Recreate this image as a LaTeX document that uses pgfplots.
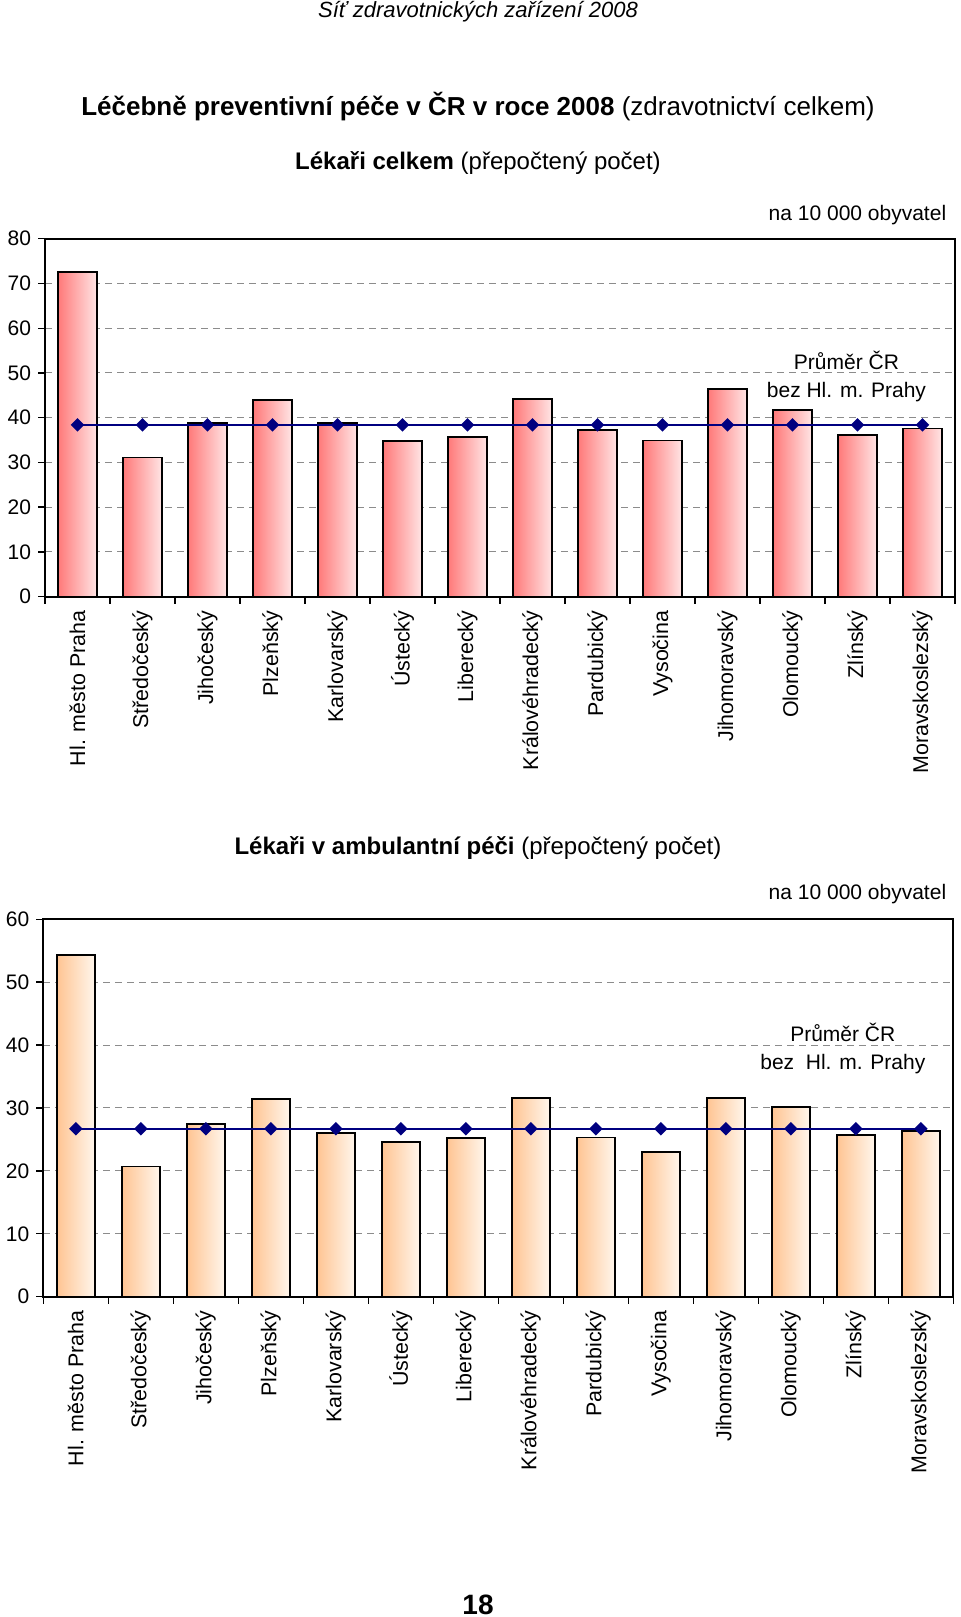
\documentclass[border=0pt]{standalone}
\usepackage{pgfplots}
\pgfplotsset{compat=1.18}
\usepackage{fontspec}
\setmainfont{Liberation Sans}

\definecolor{avgblue}{RGB}{0,0,128}
\definecolor{gridgray}{RGB}{140,140,140}
\definecolor{redL}{RGB}{255,122,122}
\definecolor{redR}{RGB}{255,228,228}
\definecolor{orL}{RGB}{255,196,146}
\definecolor{orR}{RGB}{255,246,236}

\pgfplotsset{
  regchart/.style={
    scale only axis,
    width=455pt,
    xmin=-0.5, xmax=13.5,
    ymin=0,
    xtick={0,...,13},
    xticklabels={Hl. město Praha, Středočeský, Jihočeský, Plzeňský, Karlovarský, Ústecký, Liberecký, Královéhradecký, Pardubický, Vysočina, Jihomoravský, Olomoucký, Zlínský, Moravskoslezský},
    xticklabel style={rotate=90, anchor=east, font=\fontsize{10.7}{12}\selectfont},
    major x tick style={draw=none},
    minor xtick={-0.5,0.5,...,13.5},
    minor x tick style={draw=black, line width=0.7pt},
    minor tick length=3.5pt,
    major tick length=3.5pt,
    tick align=outside,
    xtick pos=bottom, ytick pos=left,
    ytick style={draw=black, line width=0.7pt},
    yticklabel style={font=\fontsize{10.5}{12}\selectfont},
    /pgf/number format/assume math mode=true,
    ymajorgrids,
    major grid style={gridgray, dash pattern=on 3.5pt off 2.5pt, line width=0.5pt},
    axis line style={line width=0.9pt},
    anchor=south west,
    clip=false,
  },
  bars/.style={ybar, bar width=0.59, draw=black, line width=0.9pt, bar shift=0pt},
  rbar/.style={bars, left color=redL, right color=redR},
  obar/.style={bars, left color=orL, right color=orR},
  avgline/.style={avgblue, line width=1pt, mark=square*, mark size=1.9pt, mark options={fill=avgblue, draw=avgblue, rotate=45}},
}

\begin{document}
\begin{tikzpicture}
\path[use as bounding box] (0,0) rectangle (480pt,808.5pt);

\node[anchor=base, inner sep=0pt, font=\fontsize{11}{13}\selectfont\itshape] at (239pt,799.5pt) {Síť zdravotnických zařízení 2008};
\node[anchor=base, inner sep=0pt, font=\fontsize{13}{15}\selectfont] at (239pt,750.5pt) {\textbf{Léčebně preventivní péče v ČR v roce 2008} (zdravotnictví celkem)};
\node[anchor=base, inner sep=0pt, font=\fontsize{12}{14}\selectfont] at (239pt,723.5pt) {\textbf{Lékaři celkem} (přepočtený počet)};
\node[anchor=base east, inner sep=0pt, font=\fontsize{10.5}{12}\selectfont] at (473.3pt,698pt) {na 10 000 obyvatel};

\begin{axis}[regchart, at={(22.5pt,510.15pt)}, height=179pt, ymax=80, ytick={0,10,...,80}]
\addplot[rbar] coordinates {(0,72.6)};
\addplot[rbar] coordinates {(1,31.1)};
\addplot[rbar] coordinates {(2,38.9)};
\addplot[rbar] coordinates {(3,44.0)};
\addplot[rbar] coordinates {(4,38.9)};
\addplot[rbar] coordinates {(5,34.8)};
\addplot[rbar] coordinates {(6,35.6)};
\addplot[rbar] coordinates {(7,44.2)};
\addplot[rbar] coordinates {(8,37.2)};
\addplot[rbar] coordinates {(9,34.9)};
\addplot[rbar] coordinates {(10,46.4)};
\addplot[rbar] coordinates {(11,41.7)};
\addplot[rbar] coordinates {(12,36.1)};
\addplot[rbar] coordinates {(13,37.6)};
\addplot[avgline] coordinates {
(0,38.4) (1,38.4) (2,38.4) (3,38.4) (4,38.4) (5,38.4) (6,38.4) (7,38.4) (8,38.4) (9,38.4) (10,38.4) (11,38.4) (12,38.4) (13,38.4)};
\node[align=center, font=\fontsize{10.5}{14}\selectfont] at (axis cs:11.83,49.3) {Průměr ČR\\bez Hl. m. Prahy};
\end{axis}

\node[anchor=base, inner sep=0pt, font=\fontsize{12}{14}\selectfont] at (239pt,381pt) {\textbf{Lékaři v ambulantní péči} (přepočtený počet)};
\node[anchor=base east, inner sep=0pt, font=\fontsize{10.5}{12}\selectfont] at (473.3pt,358.5pt) {na 10 000 obyvatel};

\begin{axis}[regchart, at={(21.65pt,160.15pt)}, height=188.7pt, ymax=60, ytick={0,10,...,60}]
\addplot[obar] coordinates {(0,54.3)};
\addplot[obar] coordinates {(1,20.7)};
\addplot[obar] coordinates {(2,27.5)};
\addplot[obar] coordinates {(3,31.4)};
\addplot[obar] coordinates {(4,26.0)};
\addplot[obar] coordinates {(5,24.6)};
\addplot[obar] coordinates {(6,25.2)};
\addplot[obar] coordinates {(7,31.6)};
\addplot[obar] coordinates {(8,25.3)};
\addplot[obar] coordinates {(9,23.0)};
\addplot[obar] coordinates {(10,31.6)};
\addplot[obar] coordinates {(11,30.1)};
\addplot[obar] coordinates {(12,25.7)};
\addplot[obar] coordinates {(13,26.3)};
\addplot[avgline] coordinates {
(0,26.7) (1,26.7) (2,26.7) (3,26.7) (4,26.7) (5,26.7) (6,26.7) (7,26.7) (8,26.7) (9,26.7) (10,26.7) (11,26.7) (12,26.7) (13,26.7)};
\node[align=center, font=\fontsize{10.5}{14}\selectfont] at (axis cs:11.8,39.5) {Průměr ČR\\bez\ \ Hl. m. Prahy};
\end{axis}

\node[anchor=base, inner sep=0pt, font=\fontsize{14}{16}\selectfont\bfseries] at (239pt,1.5pt) {18};
\end{tikzpicture}
\end{document}
